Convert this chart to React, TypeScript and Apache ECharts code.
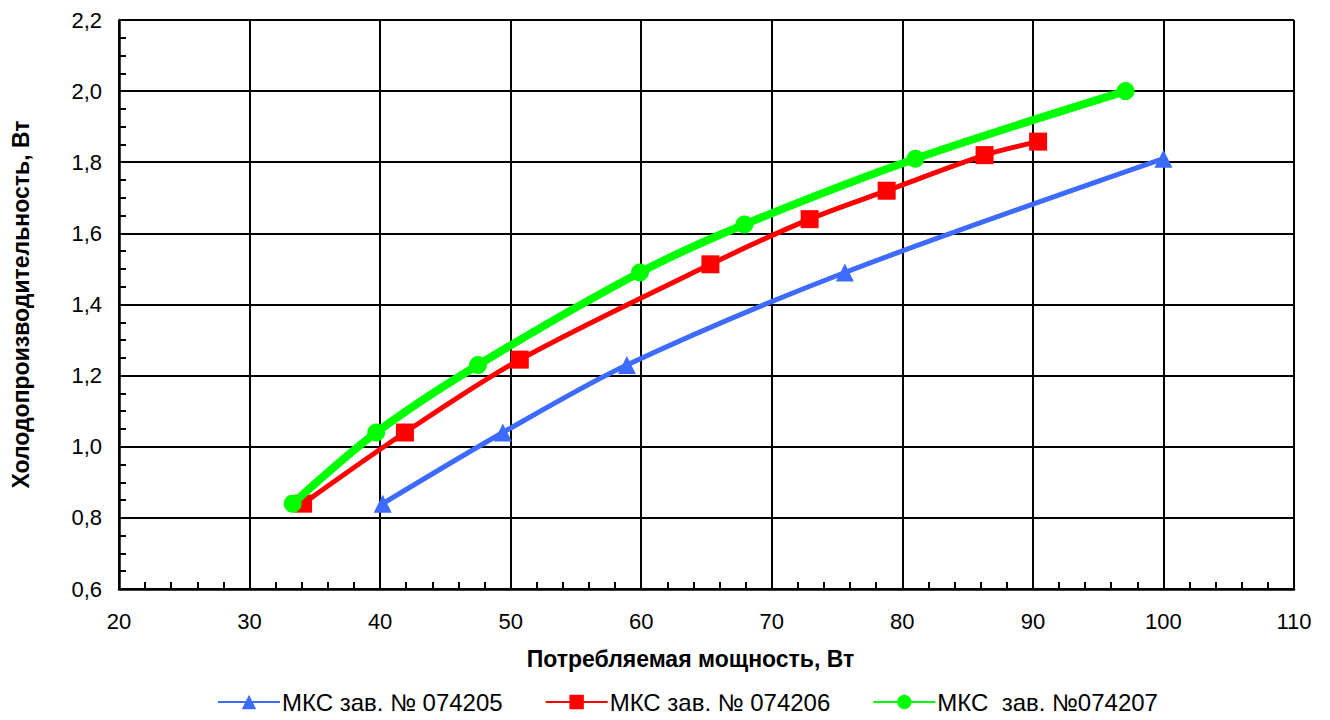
import React, { useEffect, useRef } from "react";
import * as echarts from "echarts";

const seriesNames = ["МКС зав. № 074205", "МКС зав. № 074206", "МКС  зав. №074207"];
const blueData: [number, number][] = [
  [40.2, 0.84], [49.4, 1.04], [58.9, 1.23], [75.6, 1.49], [100, 1.81],
];
const redData: [number, number][] = [
  [34.1, 0.84], [41.9, 1.04], [50.7, 1.245], [65.3, 1.513], [72.9, 1.64],
  [78.8, 1.72], [86.3, 1.82], [90.4, 1.858],
];
const greenData: [number, number][] = [
  [33.3, 0.84], [39.7, 1.04], [47.5, 1.23], [59.9, 1.49], [67.9, 1.625],
  [81.0, 1.81], [97.1, 2.0],
];
const xTitle = "Потребляемая мощность, Вт";
const yTitle = "Холодопроизводительность, Вт";

export default function App() {
  const ref = useRef<HTMLDivElement>(null);
  useEffect(() => {
    if (!ref.current) return;
    const chart = echarts.init(ref.current, undefined, { renderer: "svg" });
    const font = "'Liberation Sans', Arial, sans-serif";
    const axisCommon = {
      axisLine: { show: true, onZero: false, lineStyle: { color: "#000", width: 2.5 } },
      axisTick: { show: true, inside: true, length: 7, lineStyle: { color: "#000", width: 2 } },
      minorTick: { show: true, length: 7, lineStyle: { color: "#000", width: 2 } },
      splitLine: { show: true, lineStyle: { color: "#000", width: 2 } },
    };
    chart.setOption({
      animation: false,
      backgroundColor: "#fff",
      textStyle: { fontFamily: font },
      grid: { left: 119, right: 36, top: 20, bottom: 131, containLabel: false },
      legend: {
        bottom: 1,
        left: 212,
        itemWidth: 62,
        itemHeight: 18,
        itemGap: 42,
        textStyle: { fontSize: 24, color: "#000", fontFamily: font, padding: [0, 0, 0, -3] },
        data: seriesNames,
      },
      xAxis: {
        type: "value",
        min: 20,
        max: 110,
        interval: 10,
        ...axisCommon,
        minorTick: { ...axisCommon.minorTick, splitNumber: 5 },
        axisLabel: { fontSize: 22, color: "#000", margin: 21, fontFamily: font },
        name: xTitle,
        nameLocation: "middle",
        nameGap: 58,
        nameTextStyle: {
          fontSize: 23,
          fontWeight: "bold",
          color: "#000",
          fontFamily: font,
          padding: [0, 32, 0, 0],
        },
      },
      yAxis: {
        type: "value",
        min: 0.6,
        max: 2.2,
        interval: 0.2,
        ...axisCommon,
        minorTick: { ...axisCommon.minorTick, splitNumber: 4 },
        axisLabel: {
          fontSize: 22,
          color: "#000",
          margin: 17,
          fontFamily: font,
          formatter: (v: number) => v.toFixed(1).replace(".", ","),
        },
        name: yTitle,
        nameLocation: "middle",
        nameGap: 87,
        nameRotate: 90,
        nameTextStyle: { fontSize: 23, fontWeight: "bold", color: "#000", fontFamily: font },
      },
      series: [
        {
          name: seriesNames[0],
          type: "line",
          data: blueData,
          smooth: 0.3,
          symbol: "triangle",
          symbolSize: 18,
          lineStyle: { color: "#3d6bff", width: 5 },
          itemStyle: { color: "#3d6bff" },
          z: 2,
        },
        {
          name: seriesNames[1],
          type: "line",
          data: redData,
          smooth: 0.3,
          symbol: "rect",
          symbolSize: 18,
          lineStyle: { color: "#ff0000", width: 5 },
          itemStyle: { color: "#ff0000" },
          z: 3,
        },
        {
          name: seriesNames[2],
          type: "line",
          data: greenData,
          smooth: 0.3,
          symbol: "circle",
          symbolSize: 18,
          lineStyle: { color: "#00ff00", width: 8 },
          itemStyle: { color: "#00ff00" },
          z: 4,
        },
      ],
    });
    return () => chart.dispose();
  }, []);
  return (
    <div
      ref={ref}
      style={{ position: "fixed", left: 0, top: 0, width: 1330, height: 720 }}
    />
  );
}
